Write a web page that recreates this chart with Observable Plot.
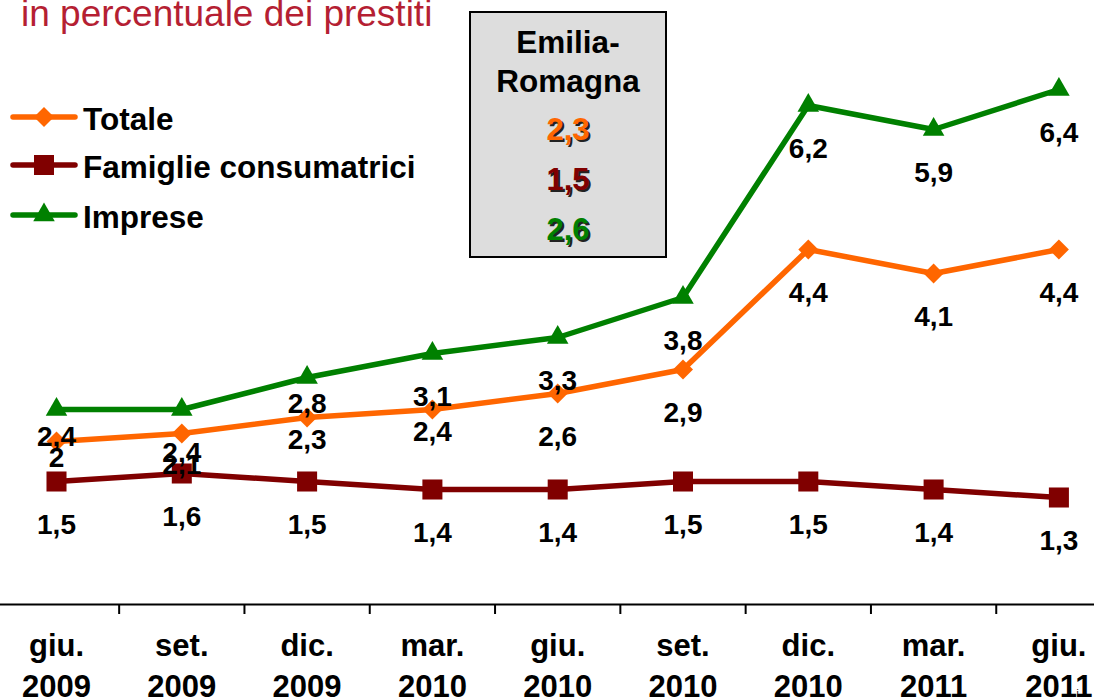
<!DOCTYPE html>
<html><head><meta charset="utf-8">
<script src="https://cdn.jsdelivr.net/npm/d3@7"></script>
<script src="https://cdn.jsdelivr.net/npm/@observablehq/plot@0.6"></script>
<style>
body{margin:0;background:#fff;}
#wrap{position:relative;width:1094px;height:699px;overflow:hidden;background:#fff;}
#wrap svg{position:absolute;left:0;top:0;}
</style></head><body><div id="wrap"></div>
<script>
// ---- data ----
const months = ["giu.","set.","dic.","mar.","giu.","set.","dic.","mar.","giu."];
const years  = ["2009","2009","2009","2010","2010","2010","2010","2011","2011"];
const totale   = [2.0, 2.1, 2.3, 2.4, 2.6, 2.9, 4.4, 4.1, 4.4];
const famiglie = [1.5, 1.6, 1.5, 1.4, 1.4, 1.5, 1.5, 1.4, 1.3];
const imprese  = [2.4, 2.4, 2.8, 3.1, 3.3, 3.8, 6.2, 5.9, 6.4];
const seriesNames = ["Totale", "Famiglie consumatrici", "Imprese"];
const regionLines = ["Emilia-", "Romagna"];
const regionValues = [2.3, 1.5, 2.6];
const titleText = "in percentuale dei prestiti";

// ---- styling ----
const FONT = "'Liberation Sans', Arial, Helvetica, sans-serif";
const colors = ["#ff6600", "#800000", "#008000"];
const symbols = ["diamond2", "square", "triangle"];
const radii = [9, 11.3, 8];
// label offsets below the point (px); default 44, a few nudged as in the original
const labelNudge = {"Imprese": {0: 28, 2: 27}, "Totale": {0: 17, 1: 32, 2: 23, 3: 23}};
const fmt = v => String(v).replace(".", ",");

const seriesValues = [totale, famiglie, imprese];
const rows = seriesNames.flatMap((s, k) => seriesValues[k].map((v, i) => ({series: s, k, i, v})));
const labelDy = r => (labelNudge[r.series] && labelNudge[r.series][r.i] !== undefined) ? labelNudge[r.series][r.i] : 44;
const byDy = d3.group(rows, labelDy);

const marks = [
  Plot.frame({anchor: "bottom", stroke: "#000", strokeWidth: 2}),
  Plot.axisX(d3.range(0.5, 8, 1), {anchor: "bottom", tickSize: 10, tickFormat: () => "", stroke: "#000", strokeWidth: 2}),
];
seriesNames.forEach((s, k) => {
  const data = rows.filter(r => r.k === k);
  marks.push(Plot.line(data, {x: "i", y: "v", stroke: colors[k], strokeWidth: 5.5, strokeLinejoin: "round"}));
});
seriesNames.forEach((s, k) => {
  const data = rows.filter(r => r.k === k);
  marks.push(Plot.dot(data, {x: "i", y: "v", symbol: symbols[k], r: radii[k], fill: colors[k], stroke: "none"}));
});
for (const [dy, data] of byDy) {
  marks.push(Plot.text(data, {x: "i", y: "v", dy, text: r => fmt(r.v), fontSize: 28, fontWeight: "bold", fill: "#000"}));
}
marks.push(Plot.text(months, {x: (d, i) => i, y: 0, dy: 45, text: d => d, fontSize: 31, fontWeight: "bold", fill: "#000"}));
marks.push(Plot.text(years, {x: (d, i) => i, y: 0, dy: 86, text: d => d, fontSize: 31, fontWeight: "bold", fill: "#000"}));

const chart = Plot.plot({
  width: 1094, height: 699,
  marginTop: 0, marginLeft: 0, marginRight: 0, marginBottom: 95,
  x: {type: "linear", domain: [-0.5, 8.5], range: [-6.65, 1121.05], axis: null},
  y: {type: "linear", domain: [0, 7.5], range: [601, 1], axis: null},
  style: {fontFamily: FONT, background: "transparent", overflow: "visible"},
  marks
});
document.getElementById("wrap").appendChild(chart);

// ---- overlay: title, legend, regional box ----
const ov = d3.select("#wrap").append("svg").attr("width", 1094).attr("height", 699)
  .style("font-family", FONT);
ov.append("text").attr("x", 21).attr("y", 26).attr("font-size", 37).attr("fill", "#b51f33").text(titleText);

const legY = [117, 165, 215], legBase = [130, 178, 228];
seriesNames.forEach((s, k) => {
  ov.append("line").attr("x1", 13).attr("x2", 75).attr("y1", legY[k]).attr("y2", legY[k])
    .attr("stroke", colors[k]).attr("stroke-width", 5.5).attr("stroke-linecap", "round");
  const symType = {diamond2: d3.symbolDiamond2, square: d3.symbolSquare, triangle: d3.symbolTriangle}[symbols[k]];
  ov.append("path").attr("d", d3.symbol(symType, Math.PI * radii[k] * radii[k])())
    .attr("transform", `translate(44,${legY[k]})`).attr("fill", colors[k]);
  ov.append("text").attr("x", 83).attr("y", legBase[k]).attr("font-size", 31.5).attr("font-weight", "bold")
    .attr("fill", "#000").text(s);
});

ov.append("rect").attr("x", 470).attr("y", 12).attr("width", 196).attr("height", 245)
  .attr("fill", "#dddddd").attr("stroke", "#000").attr("stroke-width", 2);
const cx = 568;
[53, 92].forEach((b, j) => ov.append("text").attr("x", cx).attr("y", b).attr("text-anchor", "middle")
  .attr("font-size", 31.5).attr("font-weight", "bold").attr("fill", "#000").text(regionLines[j]));
const valBase = [140, 190, 240];
regionValues.forEach((v, k) => {
  ov.append("text").attr("x", cx + 2).attr("y", valBase[k] + 2).attr("text-anchor", "middle")
    .attr("font-size", 31).attr("font-weight", "bold").attr("fill", "#222").text(fmt(v));
  ov.append("text").attr("x", cx).attr("y", valBase[k]).attr("text-anchor", "middle")
    .attr("font-size", 31).attr("font-weight", "bold").attr("fill", colors[k]).text(fmt(v));
});
</script></body></html>
